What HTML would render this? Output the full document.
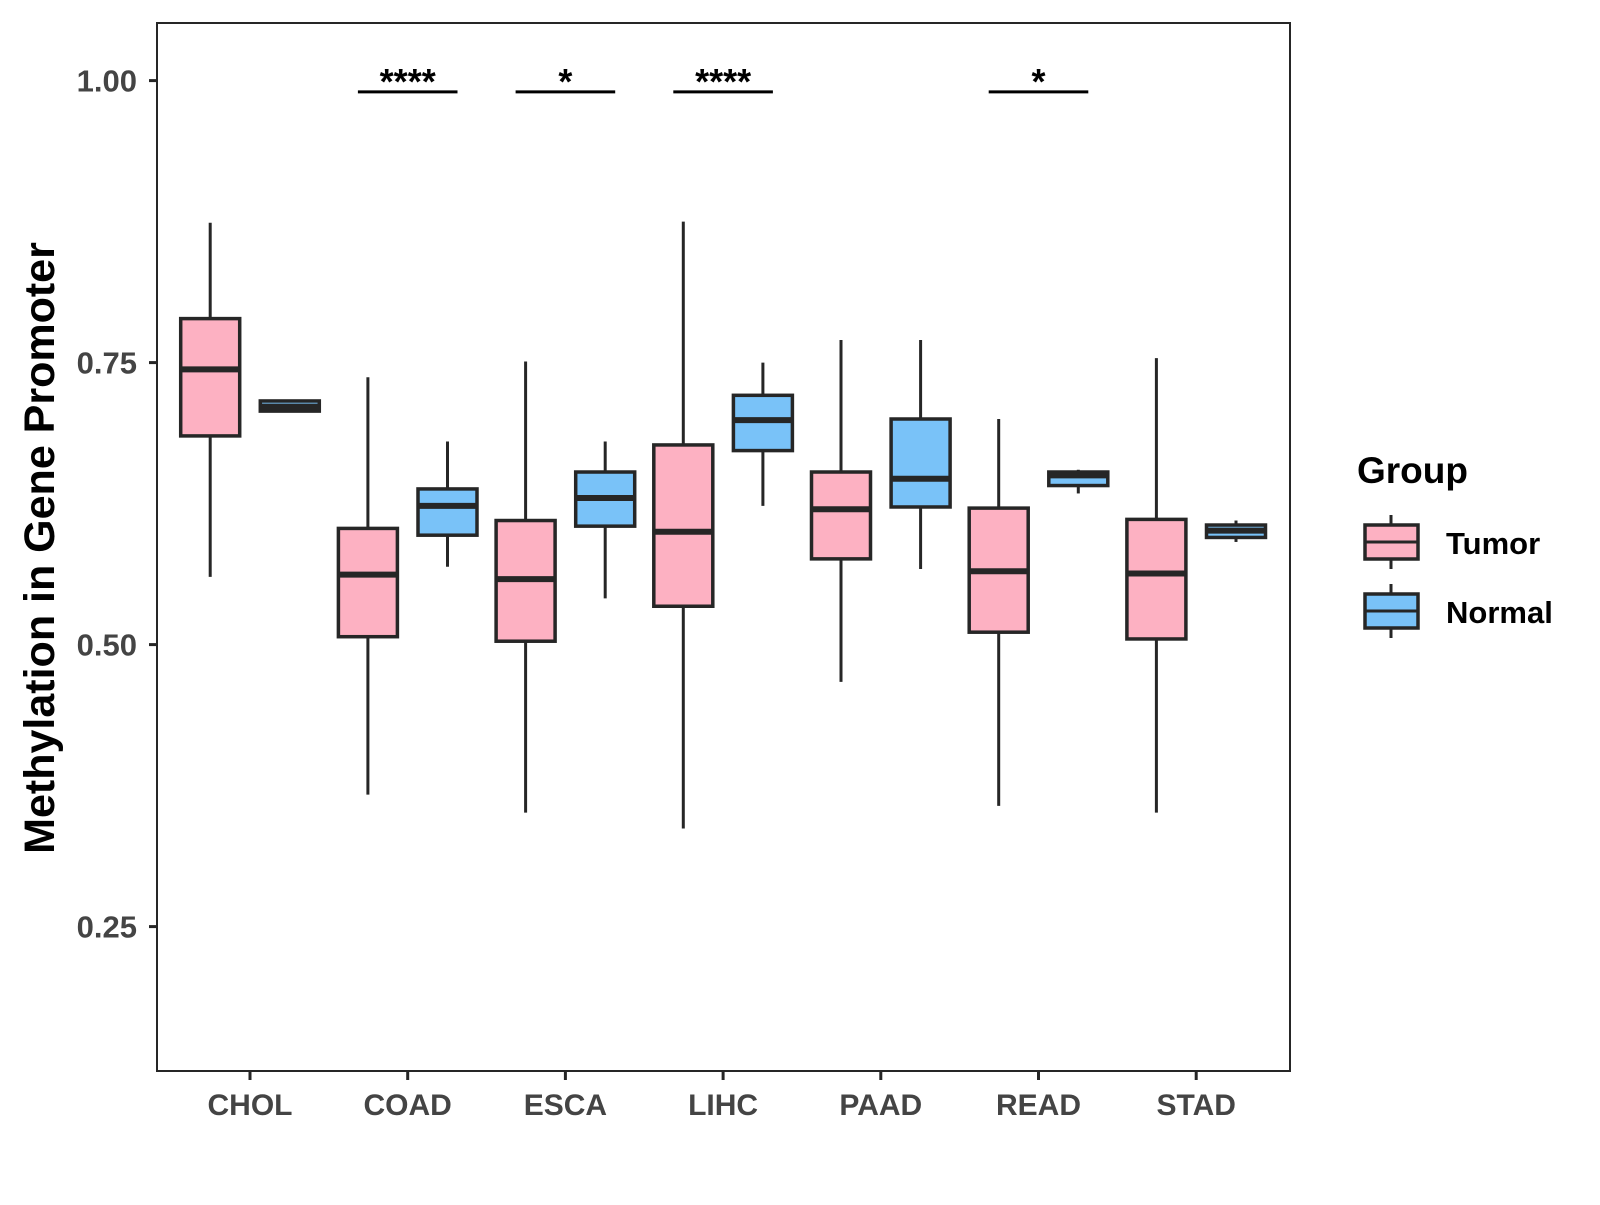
<!DOCTYPE html>
<html><head><meta charset="utf-8"><style>
html,body{margin:0;padding:0;background:#fff;}
svg text{font-family:"Liberation Sans",Arial,sans-serif;font-weight:bold;}
</style></head><body>
<svg id="chart" width="1600" height="1200" xmlns="http://www.w3.org/2000/svg">
<g id="plot"></g>
</svg>
<script>
const categories = ["CHOL","COAD","ESCA","LIHC","PAAD","READ","STAD"];
const tumorStats = [
 [0.560,0.685,0.744,0.789,0.874],
 [0.367,0.507,0.562,0.603,0.737],
 [0.351,0.503,0.558,0.610,0.751],
 [0.337,0.534,0.600,0.677,0.875],
 [0.467,0.576,0.620,0.653,0.770],
 [0.357,0.511,0.565,0.621,0.700],
 [0.351,0.505,0.563,0.611,0.754]
];
const normalStats = [
 [0.707,0.707,0.711,0.716,0.716],
 [0.569,0.597,0.623,0.638,0.680],
 [0.541,0.605,0.630,0.653,0.680],
 [0.623,0.672,0.699,0.721,0.750],
 [0.567,0.622,0.647,0.700,0.770],
 [0.634,0.641,0.650,0.653,0.655],
 [0.591,0.595,0.601,0.606,0.610]
];
const yTicks = [0.25,0.50,0.75,1.00];
const yTickLabels = ["0.25","0.50","0.75","1.00"];
const sigCategories = ["COAD","ESCA","LIHC","READ"];
const sigLabels = ["****","*","****","*"];
const sigLevel = 0.99;

const NS="http://www.w3.org/2000/svg";
const g=document.getElementById('plot');
const L=157,R=1290,T=23,B=1071;
function y(v){return 80.6+(1-v)*1128;}
function x(i){return 250+i*157.7;}
const dodge=39.8, bw=59, ink="#262626";
function el(tag,attrs){const e=document.createElementNS(NS,tag);for(const k in attrs)e.setAttribute(k,attrs[k]);g.appendChild(e);return e;}

const panel=el('rect',{x:L,y:T,width:R-L,height:B-T,fill:'none',stroke:ink,'stroke-width':2});



yTicks.forEach((v,i)=>{
 const t=el('line',{x1:L-8,x2:L,y1:y(v),y2:y(v),stroke:ink,'stroke-width':3});
 
 
 const tx=el('text',{x:L-20,y:y(v)+11,'text-anchor':'end','font-size':31,fill:'#444'});
 tx.textContent=yTickLabels[i];
 
 
});
categories.forEach((c,i)=>{
 const t=el('line',{x1:x(i),x2:x(i),y1:B,y2:B+9,stroke:ink,'stroke-width':3});
 
 
 const tx=el('text',{x:x(i),y:B+44,'text-anchor':'middle','font-size':30,fill:'#444'});
 tx.textContent=c;
 
 
});

function box(cx,s,fill,name){
 const w=el('line',{x1:cx,x2:cx,y1:y(s[0]),y2:y(s[4]),stroke:ink,'stroke-width':3});
 
 
 const r=el('rect',{x:cx-bw/2,y:y(s[3]),width:bw,height:Math.max(y(s[1])-y(s[3]),1),fill:fill,stroke:ink,'stroke-width':3.5});
 
 
 const m=el('line',{x1:cx-bw/2,x2:cx+bw/2,y1:y(s[2]),y2:y(s[2]),stroke:ink,'stroke-width':6});
 
 
}
categories.forEach((c,i)=>{
 box(x(i)-dodge,tumorStats[i],'#FDB1C2','tumor-'+c.toLowerCase());
 box(x(i)+dodge,normalStats[i],'#79C2F8','normal-'+c.toLowerCase());
});

sigCategories.forEach((c,k)=>{
 const i=categories.indexOf(c);
 const ln=el('line',{x1:x(i)-dodge-10,x2:x(i)+dodge+10,y1:y(sigLevel),y2:y(sigLevel),stroke:'#000','stroke-width':3});
 
 
 const tx=el('text',{x:x(i),y:y(sigLevel)+2,'text-anchor':'middle','font-size':36,fill:'#000'});
 tx.textContent=sigLabels[k];
 
 
});

const yt=el('text',{x:0,y:0,'text-anchor':'middle','font-size':43,fill:'#000',transform:'translate(54,548) rotate(-90)'});
yt.textContent='Methylation in Gene Promoter';



const lt=el('text',{x:1357,y:483,'font-size':37,fill:'#000'});
lt.textContent='Group';


[['Tumor','#FDB1C2',525],['Normal','#79C2F8',594]].forEach(([lab,col,ty])=>{
 const cx=1391;
 const w=el('line',{x1:cx,x2:cx,y1:ty-10,y2:ty+44,stroke:ink,'stroke-width':3});
 
 
 const r=el('rect',{x:1365,y:ty,width:53,height:34,fill:col,stroke:ink,'stroke-width':3.5});
 
 
 const m=el('line',{x1:1365,x2:1418,y1:ty+17,y2:ty+17,stroke:ink,'stroke-width':3});
 
 
 const t=el('text',{x:1446,y:ty+29,'font-size':31,fill:'#000'});
 t.textContent=lab;
 
 
});
</script>
</body></html>
